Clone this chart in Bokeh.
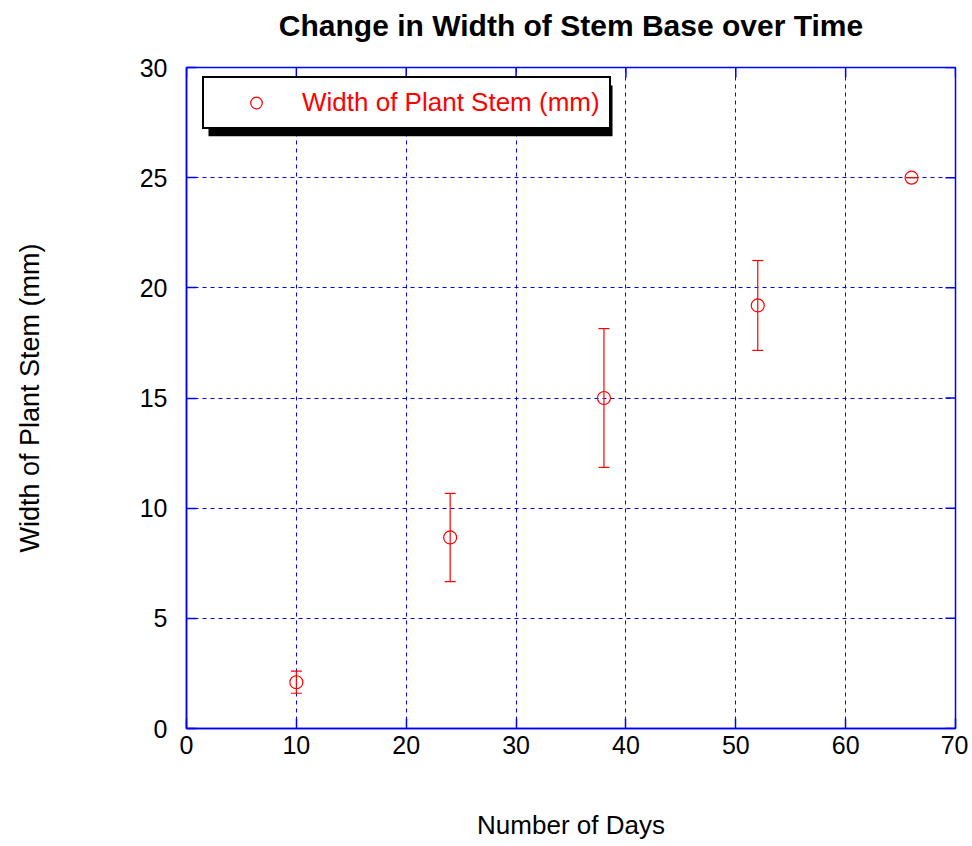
from bokeh.plotting import figure
from bokeh.models import (ColumnDataSource, Whisker, TeeHead, Legend, LegendItem,
                          LinearAxis, FixedTicker, BoxAnnotation, Range1d)
from bokeh.embed import file_html
from bokeh.resources import INLINE

# ---- data ----
days = [10, 24, 38, 52, 66]
stem_width = [2.1, 8.67, 15.0, 19.2, 25.0]
stem_err = [0.5, 2.0, 3.15, 2.04, 0.0]
x_ticks = [0, 10, 20, 30, 40, 50, 60, 70]
y_ticks = [0, 5, 10, 15, 20, 25, 30]
title_text = "Change in Width of Stem Base over Time"
x_label = "Number of Days"
y_label = "Width of Plant Stem (mm)"
series_label = "Width of Plant Stem (mm)"

FONT = "Liberation Sans"
BLUE = "#0000ff"
RED = "#ff0000"
TICK_LEN = 10

W, H = 968, 842
ML, MT = 186, 67
FR, FB = 955, 730
MR, MB = W - FR, H - FB
FW, FH = FR - ML, FB - MT
X0, X1, Y0, Y1 = 0, 70, 0, 30

p = figure(width=W, height=H, output_backend="svg", toolbar_location=None,
           x_range=Range1d(X0, X1), y_range=Range1d(Y0, Y1),
           min_border_left=ML, min_border_right=MR, min_border_top=MT, min_border_bottom=MB,
           x_axis_location=None, y_axis_location=None)

def px2x(px):
    """pixel offset from frame left -> data x"""
    return X0 + px * (X1 - X0) / FW
def px2y(py):
    """pixel offset from frame top -> data y"""
    return Y1 - py * (Y1 - Y0) / FH

def style_axis(ax, ticks):
    ax.ticker = FixedTicker(ticks=ticks)
    ax.axis_line_color = BLUE
    ax.axis_line_width = 1.5
    ax.major_tick_line_color = BLUE
    ax.major_tick_line_width = 1.5
    ax.major_tick_in = TICK_LEN
    ax.major_tick_out = 0
    ax.minor_tick_line_color = None
    ax.major_label_text_font = FONT
    ax.major_label_text_font_size = "25px"
    ax.major_label_text_color = "black"
    ax.axis_label_text_font = FONT
    ax.axis_label_text_font_size = "26px"
    ax.axis_label_text_font_style = "normal"
    ax.axis_label_text_color = "black"

xb = LinearAxis(axis_label=x_label)
style_axis(xb, x_ticks)
xb.major_label_standoff = 7
xb.axis_label_standoff = 53
p.add_layout(xb, "below")

yl = LinearAxis(axis_label=y_label)
style_axis(yl, y_ticks)
yl.axis_label_text_font_size = "27px"
yl.major_label_standoff = 19
yl.axis_label_standoff = 92
p.add_layout(yl, "left")

# chart title: label of a tick-less axis above the frame, centred on the frame
title_axis = LinearAxis(ticker=FixedTicker(ticks=[]), axis_label=title_text,
                        axis_line_color=None, major_tick_line_color=None,
                        minor_tick_line_color=None, major_tick_in=0, major_tick_out=0,
                        major_label_standoff=0, axis_label_standoff=26,
                        axis_label_text_font=FONT, axis_label_text_font_size="30px",
                        axis_label_text_font_style="bold", axis_label_text_color="black")
p.add_layout(title_axis, "above")

p.xgrid.ticker = FixedTicker(ticks=x_ticks)
p.ygrid.ticker = FixedTicker(ticks=y_ticks)
for g in (p.xgrid, p.ygrid):
    g.grid_line_color = BLUE
    g.grid_line_dash = "4 4"
    g.grid_line_width = 1

p.outline_line_color = BLUE
p.outline_line_width = 1.5
p.background_fill_color = "white"
p.border_fill_color = "white"

# mirrored inward ticks on top and right edges
p.segment(x0=x_ticks, y0=[Y1] * len(x_ticks), x1=x_ticks, y1=[px2y(TICK_LEN)] * len(x_ticks),
          line_color=BLUE, line_width=1.5)
p.segment(x0=[X1] * len(y_ticks), y0=y_ticks, x1=[px2x(FW - TICK_LEN)] * len(y_ticks), y1=y_ticks,
          line_color=BLUE, line_width=1.5)

src = ColumnDataSource(dict(
    x=days, y=stem_width,
    upper=[v + e for v, e in zip(stem_width, stem_err)],
    lower=[v - e for v, e in zip(stem_width, stem_err)],
))

wh = Whisker(base="x", upper="upper", lower="lower", source=src,
             line_color=RED, line_width=1.2,
             upper_head=TeeHead(size=11, line_color=RED, line_width=1.2),
             lower_head=TeeHead(size=11, line_color=RED, line_width=1.2))
wh.level = "glyph"
p.add_layout(wh)

r = p.scatter("x", "y", source=src, marker="circle", size=13,
              fill_color=None, line_color=RED, line_width=1.2)

# legend box (pixel geometry relative to frame top-left) and its shadow
LG_L, LG_T, LG_W, LG_H, SH = 16, 12, 404, 51, 6

shadow = BoxAnnotation(left=px2x(LG_L + SH), right=px2x(LG_L + LG_W + SH),
                       top=px2y(LG_T + SH), bottom=px2y(LG_T + LG_H + SH),
                       fill_color="black", fill_alpha=1.0, line_color=None)
p.add_layout(shadow)

legend = Legend(items=[LegendItem(label=series_label, renderers=[r])],
                location=(LG_L, FH - LG_T - LG_H - 1),
                border_line_color="black", border_line_width=2, border_line_alpha=1.0,
                background_fill_color="white", background_fill_alpha=1.0,
                padding=9, spacing=0, margin=0,
                glyph_width=86, glyph_height=29, label_height=29, label_standoff=3,
                label_text_font=FONT, label_text_font_size="26px",
                label_text_color=RED)
p.add_layout(legend)

open("out.html", "w").write(file_html(p, INLINE))
